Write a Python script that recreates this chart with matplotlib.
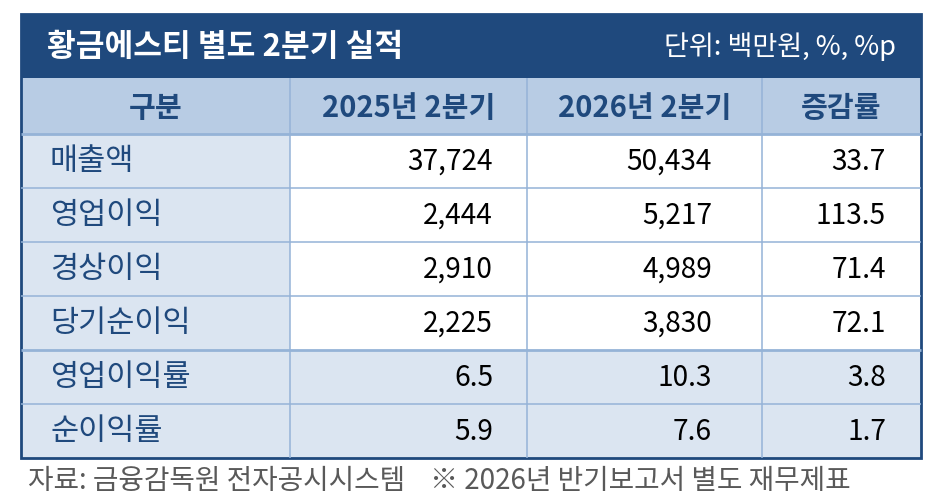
import matplotlib
matplotlib.use("Agg")
import matplotlib.pyplot as plt
from matplotlib.patches import Rectangle

plt.rcParams['font.family'] = ['Noto Sans CJK KR', 'DejaVu Sans']

title = "황금에스티 별도 2분기 실적"
unit = "단위: 백만원, %, %p"
columns = ["구분", "2025년 2분기", "2026년 2분기", "증감률"]
items = ["매출액", "영업이익", "경상이익", "당기순이익", "영업이익률", "순이익률"]
q2_2025 = [37724, 2444, 2910, 2225, 6.5, 5.9]
q2_2026 = [50434, 5217, 4989, 3830, 10.3, 7.6]
change = [33.7, 113.5, 71.4, 72.1, 3.8, 1.7]
is_ratio = [False, False, False, False, True, True]
footer = "자료: 금융감독원 전자공시시스템    ※ 2026년 반기보고서 별도 재무제표"

NAVY = "#1F497D"
HEAD = "#B8CCE4"
LIGHT = "#DBE5F1"
GRID = "#95B3D7"

W, H = 938, 502
fig = plt.figure(figsize=(W / 100, H / 100), dpi=100)
ax = fig.add_axes([0, 0, 1, 1])
ax.set_xlim(0, W)
ax.set_ylim(H, 0)
ax.axis("off")

left, right = 21, 921
top, title_bot = 15, 79
head_bot = 135
row_h = 54
col_x = [left, 290, 527, 762, right]
val_right = [None, 493, 712, 886]
bottom = head_bot + row_h * len(items)

# title band
ax.add_patch(Rectangle((left, top), right - left, title_bot - top, color=NAVY, lw=0))
ax.text(47, (top + title_bot) / 2, title, color="white", fontsize=22.5,
        fontweight="bold", ha="left", va="center")
ax.text(896, (top + title_bot) / 2, unit, color="white", fontsize=19.5,
        ha="right", va="center")

# header row
ax.add_patch(Rectangle((left, title_bot), right - left, head_bot - title_bot, color=HEAD, lw=0))
for i, c in enumerate(columns):
    ax.text((col_x[i] + col_x[i + 1]) / 2, (title_bot + head_bot) / 2 + 1, c,
            color=NAVY, fontsize=21, fontweight="bold", ha="center", va="center")

# body
for r, name in enumerate(items):
    y0 = head_bot + r * row_h
    yc = y0 + row_h / 2
    body_col = LIGHT if is_ratio[r] else "white"
    ax.add_patch(Rectangle((col_x[0], y0), col_x[1] - col_x[0], row_h, color=LIGHT, lw=0))
    ax.add_patch(Rectangle((col_x[1], y0), right - col_x[1], row_h, color=body_col, lw=0))
    ax.text(50, yc, name, color=NAVY, fontsize=22, ha="left", va="center")
    vals = [q2_2025[r], q2_2026[r], change[r]]
    for j, v in enumerate(vals):
        s = f"{v:.1f}" if (is_ratio[r] or j == 2) else f"{v:,}"
        ax.text(val_right[j + 1], yc, s, color="black", fontsize=20.2,
                ha="right", va="center")

# grid lines
for r in range(1, len(items)):
    y = head_bot + r * row_h
    lw = 2.0 if r == 4 else 1.1
    ax.plot([left, right], [y, y], color=GRID, lw=lw, solid_capstyle="butt")
ax.plot([left, right], [head_bot, head_bot], color=GRID, lw=2.0, solid_capstyle="butt")
for x in col_x[1:-1]:
    ax.plot([x, x], [title_bot, bottom], color=GRID, lw=1.1, solid_capstyle="butt")

# outer border
ax.add_patch(Rectangle((left, top), right - left, bottom - top, fill=False,
                       edgecolor=NAVY, lw=2.0))

ax.text(28, 481, footer, color="#595959", fontsize=20, ha="left", va="center")

fig.savefig("out.png", dpi=100)
